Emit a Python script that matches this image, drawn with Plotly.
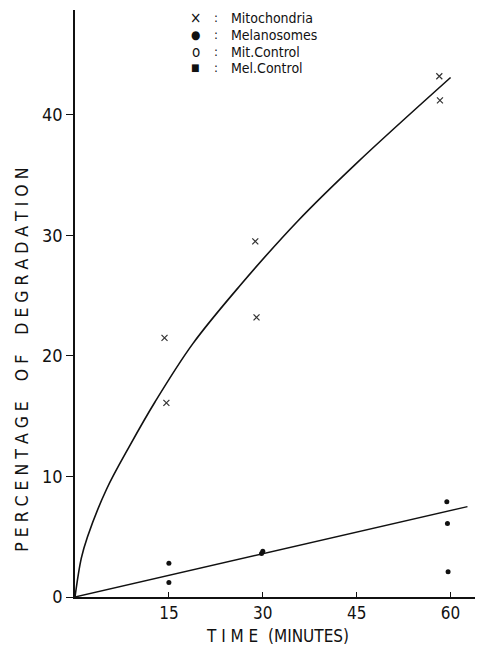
import plotly.graph_objects as go

# Data
mito_t = [14.3, 14.6, 28.8, 29.0, 58.2, 58.3]
mito_pct = [21.5, 16.1, 29.5, 23.2, 43.2, 41.2]
mel_t = [15.0, 15.0, 29.8, 30.0, 59.4, 59.5, 59.6]
mel_pct = [2.8, 1.2, 3.6, 3.8, 7.9, 6.1, 2.1]

# fitted curves as drawn in the picture
mito_fit_t = [0, 1, 2, 5, 8.8, 12.8, 18.8, 26.3, 35.6, 45, 60]
mito_fit_pct = [0, 3.2, 5.0, 8.9, 12.6, 16.2, 21.0, 25.8, 31.2, 36.0, 43.1]
mel_fit_t = [0, 62.7]
mel_fit_pct = [0, 7.5]

x_ticks = [15, 30, 45, 60]
y_ticks = [0, 10, 20, 30, 40]

legend_symbols = ["×", "●", "o", "■"]
legend_labels = ["Mitochondria", "Melanosomes", "Mit.Control", "Mel.Control"]
legend_rows = [48.05, 46.65, 45.25, 43.9]

FONT = "Liberation Sans Narrow, DejaVu Sans Condensed, Liberation Sans, sans-serif"

fig = go.Figure()
fig.add_trace(go.Scatter(x=mito_fit_t, y=mito_fit_pct, mode="lines",
                         line=dict(color="#111", width=1.6, shape="spline", smoothing=1.0),
                         showlegend=False, hoverinfo="skip"))
fig.add_trace(go.Scatter(x=mel_fit_t, y=mel_fit_pct, mode="lines",
                         line=dict(color="#111", width=1.4),
                         showlegend=False, hoverinfo="skip"))
fig.add_trace(go.Scatter(x=mito_t, y=mito_pct, mode="markers", name="Mitochondria",
                         showlegend=False,
                         marker=dict(symbol="x-thin", size=6, color="#333",
                                     line=dict(width=1.2, color="#333"))))
fig.add_trace(go.Scatter(x=mel_t, y=mel_pct, mode="markers", name="Melanosomes",
                         showlegend=False,
                         marker=dict(symbol="circle", size=5, color="#111")))

annotations = [
    dict(text="P E R C E N T A G E    O F    D E G R A D A T I O N",
         xref="paper", yref="paper", x=-0.131, y=0.404, xanchor="center",
         yanchor="middle", textangle=-90, showarrow=False,
         font=dict(size=17.5, family=FONT)),
    dict(text="T I M E  (MINUTES)", xref="paper", yref="paper",
         x=0.499, y=-0.066, xanchor="center", yanchor="middle",
         showarrow=False, font=dict(size=17, family=FONT)),
]
sym_sizes = [15, 12, 15, 10]
for sym, lab, row, ss in zip(legend_symbols, legend_labels, legend_rows, sym_sizes):
    annotations.append(dict(text=sym, x=19.3, y=row, xref="x", yref="y",
                            xanchor="center", yanchor="middle", showarrow=False,
                            font=dict(size=ss, family=FONT)))
    annotations.append(dict(text=":", x=22.5, y=row, xref="x", yref="y",
                            xanchor="center", yanchor="middle", showarrow=False,
                            font=dict(size=13, family=FONT)))
    annotations.append(dict(text=lab, x=24.6, y=row, xref="x", yref="y",
                            xanchor="left", yanchor="middle", showarrow=False,
                            font=dict(size=14, family=FONT)))

fig.update_layout(
    width=475, height=639,
    margin=dict(l=67, r=3, t=2, b=50),
    paper_bgcolor="white", plot_bgcolor="white",
    font=dict(family=FONT, color="#111", size=16),
    showlegend=False,
    xaxis=dict(range=[0, 64.7], tickvals=x_ticks, ticktext=[str(v) for v in x_ticks],
               showgrid=False, zeroline=False, showline=True, linecolor="#111",
               linewidth=1.5, ticks="inside", ticklen=5, tickcolor="#111",
               tickfont=dict(size=17, family=FONT), automargin=False),
    yaxis=dict(range=[0, 48.7], tickvals=y_ticks, ticktext=[str(v) for v in y_ticks],
               showgrid=False, zeroline=False, showline=True, linecolor="#111",
               linewidth=1.8, ticks="outside", ticklen=7, tickcolor="#111",
               tickfont=dict(size=18, family=FONT), automargin=False),
    annotations=annotations,
)

fig.write_html("out.html")
